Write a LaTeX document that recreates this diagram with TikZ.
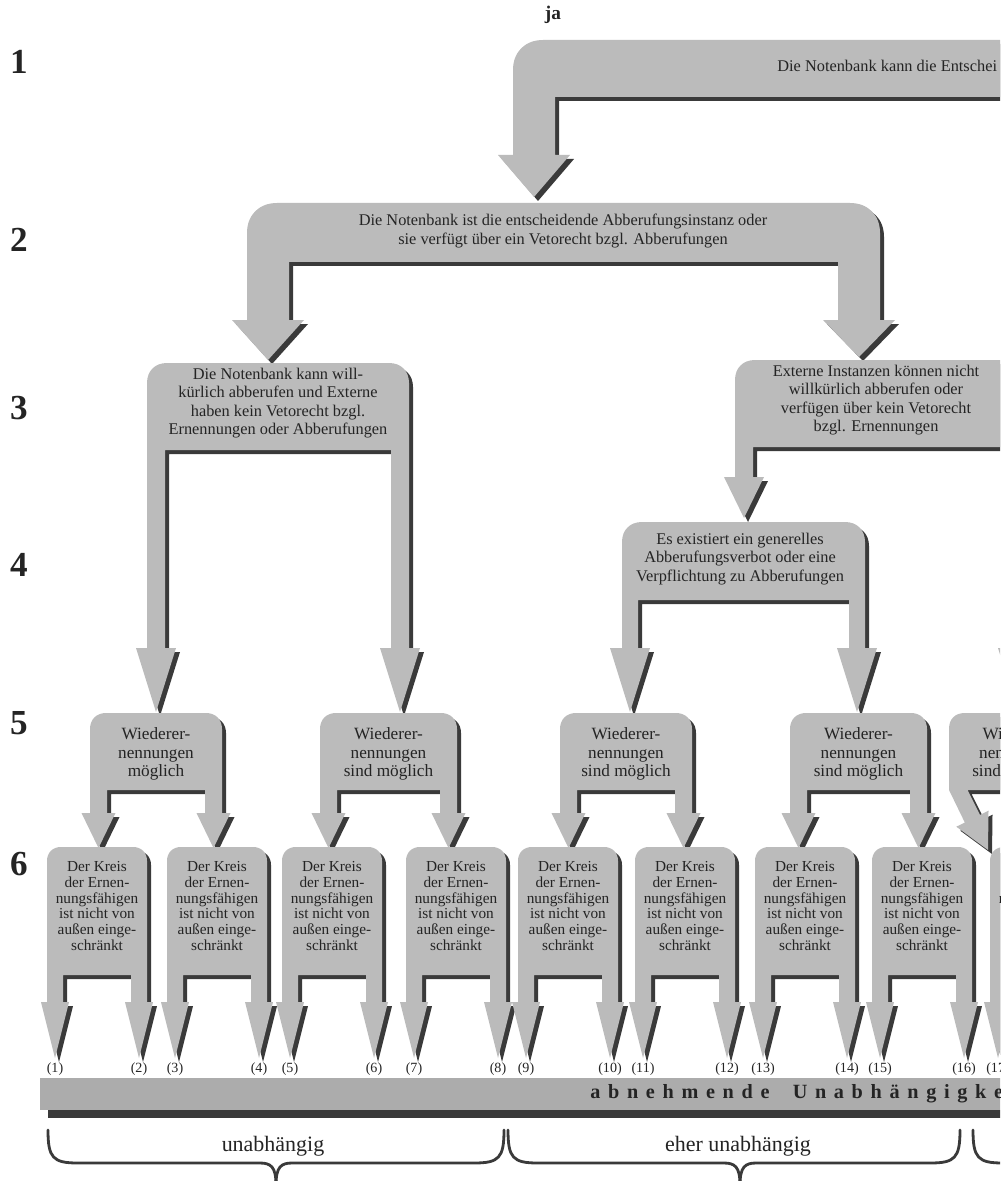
\documentclass[tikz,border=0pt]{standalone}
\usepackage{fontspec}
\setmainfont{Liberation Serif}
\newfontfamily\nbspaced[LetterSpace=38]{Liberation Serif}
\usepackage{tikz}
\usetikzlibrary{positioning,calc}
\definecolor{nbFill}{HTML}{BBBBBB}
\definecolor{nbShade}{HTML}{3A3A3A}
\definecolor{nbText}{HTML}{242424}
\definecolor{nbBar}{HTML}{ACACAC}
\tikzset{
  nbfork/.style={fill=nbFill,preaction={fill=nbShade,transform canvas={shift={(4,4)}}}},
  nbtxt/.style={text=nbText,align=center,inner sep=0pt,font=\fontsize{9.3}{10.4}\selectfont},
  nbmid/.style={nbtxt,font=\fontsize{9.8}{10.5}\selectfont},
  nbsmall/.style={nbtxt,font=\fontsize{8.7}{8.9}\selectfont},
  nblvl/.style={text=nbText,inner sep=0pt,font=\fontsize{20}{20}\selectfont\bfseries},
  nbnum/.style={text=nbText,inner sep=0pt,font=\fontsize{8}{8}\selectfont},
  nbbrace/.style={draw=nbShade,line width=1.6pt,line cap=round},
  nbgroup/.style={text=nbText,inner sep=0pt,font=\fontsize{12.5}{12.5}\selectfont},
}
% #1 x1, #2 x2, #3 top, #4 inner edge, #5 leg, #6/#7 left base/tip, #8/#9 right base/tip
\newcommand{\nbfork}[9]{%
  \fill[nbfork] (#1,#6) -- (#1,#3+\nbR) .. controls (#1,#3+0.4*\nbR) and (#1+0.4*\nbR,#3) .. (#1+\nbR,#3)
    -- (#2-\nbR,#3) .. controls (#2-0.4*\nbR,#3) and (#2,#3+0.4*\nbR) .. (#2,#3+\nbR)
    -- (#2,#8) -- (#2-#5/2+\nbA,#8) -- (#2-#5/2,#9) -- (#2-#5/2-\nbA,#8)
    -- (#2-#5,#8) -- (#2-#5,#4) -- (#1+#5,#4) -- (#1+#5,#6)
    -- (#1+#5/2+\nbA,#6) -- (#1+#5/2,#7) -- (#1+#5/2-\nbA,#6) -- cycle;}

\begin{document}
\begin{tikzpicture}[x=0.2mm,y=-0.2mm]
  \useasboundingbox (0,0) rectangle (1000,1181);
  \clip (0,0) rectangle (1000,1181);

  \foreach \n/\y in {1/62,2/240,3/408,4/565,5/723,6/864}{\node[nblvl] (lvl\n) at (19,\y) {\n};}
  \node[text=nbText,font=\fontsize{11}{11}\selectfont\bfseries] (ja) at (553,15) {ja};

  % upper levels
  \def\nbA{36}\def\nbR{30}
  \nbfork{513}{1100}{40}{97}{42}{155}{197}{155}{197}
  \node[nbtxt,anchor=west] (t1) at (777,66) {Die Notenbank kann die Entschei};
  \nbfork{247}{880}{203}{262}{42}{320}{360}{320}{357}
  \node[nbtxt] (t2) at (563,231) {Die Notenbank ist die entscheidende Abberufungsinstanz oder\\sie verfügt über ein Vetorecht bzgl. Abberufungen};

  \def\nbA{20}\def\nbR{20}
  \nbfork{147}{409}{363}{450}{18}{648}{712}{648}{712}
  \node[nbtxt] (t3l) at (278,403) {Die Notenbank kann will-\\kürlich abberufen und Externe\\haben kein Vetorecht bzgl.\\Ernennungen oder Abberufungen};
  \nbfork{735}{1027}{360}{447}{18}{477}{518}{648}{712}
  \node[nbtxt] (t3r) at (876,400) {Externe Instanzen können nicht\\willkürlich abberufen oder\\verfügen über kein Vetorecht\\bzgl. Ernennungen};
  \nbfork{622}{865}{522}{600}{16}{648}{712}{648}{712}
  \node[nbtxt] (t4) at (740,559) {Es existiert ein generelles\\Abberufungsverbot oder eine\\Verpflichtung zu Abberufungen};

  % level 5
  \def\nbA{17}\def\nbR{16}
  \foreach \x/\y/\s [count=\i] in {90/222/möglich,320/457/sind möglich,560/692/sind möglich,790/927/sind möglich}{
    \nbfork{\x}{\y}{713}{790}{17}{813}{848}{813}{848}
    \node[nbmid] (t5-\i) at ({(\x+\y)/2},754) {Wiederer-\\nennungen\\\s};
  }
  \fill[nbfork] (949,790) -- (949,729) .. controls (949,719) and (955,713) .. (965,713) -- (1100,713) -- (1100,790)
    -- (967.6,790) -- (980,814.9) -- (988.5,810.7) -- (988,850) -- (956.3,826.7) -- (964.8,822.5) -- cycle;
  \node[nbmid] (t5-5) at (1017,754) {Wiederer-\\nennungen\\sind möglich};

  % level 6
  \def\nbA{14}\def\nbR{14}
  \foreach \x/\l/\r in {47/1/2,167/3/4,282/5/6,406/7/8,518/9/10,635/11/12,755/13/14,872/15/16,990/17/18}{
    \nbfork{\x}{\x+100}{847}{975}{16}{1002}{1058}{1002}{1058}
    \node[nbsmall] (t6-\l) at (\x+50,906) {Der Kreis\\der Ernen-\\nungsfähigen\\ist nicht von\\außen einge-\\schränkt};
    \node[nbnum] (n\l) at (\x+8,1069) {(\l)};
    \node[nbnum] (n\r) at (\x+92,1069) {(\r)};
  }

  % bar and braces
  \fill[nbShade] (48,1110) rectangle (1100,1118);
  \fill[nbBar] (40,1078) rectangle (1100,1110);
  \node[text=nbText,anchor=west,inner sep=0pt,font=\fontsize{11.5}{11.5}\selectfont\nbspaced\bfseries] (bar) at (590,1094) {abnehmende\hspace{6pt} Unabhängigke};

  \draw[nbbrace] (48,1130) .. controls (48,1158) and (53,1163) .. (78,1163) -- (260,1163) .. controls (271,1163) and (276,1167) .. (276,1185);
  \draw[nbbrace] (504,1130) .. controls (504,1158) and (499,1163) .. (474,1163) -- (292,1163) .. controls (281,1163) and (276,1167) .. (276,1185);
  \draw[nbbrace] (508,1130) .. controls (508,1158) and (513,1163) .. (538,1163) -- (724,1163) .. controls (735,1163) and (740,1167) .. (740,1185);
  \draw[nbbrace] (960,1130) .. controls (960,1158) and (955,1163) .. (930,1163) -- (756,1163) .. controls (745,1163) and (740,1167) .. (740,1185);
  \draw[nbbrace] (973,1130) .. controls (973,1158) and (978,1163) .. (1003,1163);
  \node[nbgroup] (g1) at (273,1146) {unabhängig};
  \node[nbgroup] (g2) at (738,1146) {eher unabhängig};
\end{tikzpicture}
\end{document}
